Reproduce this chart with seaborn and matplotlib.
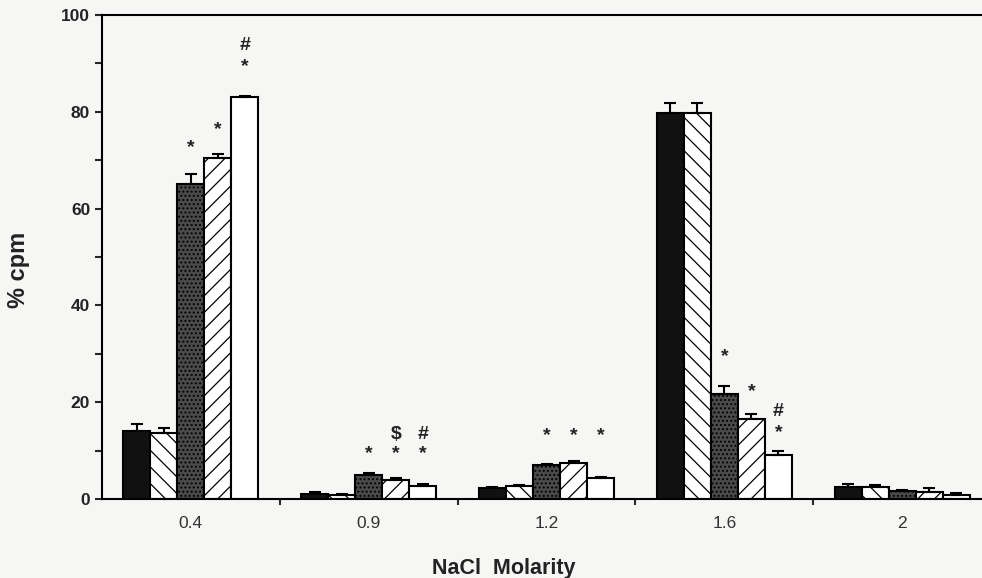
import numpy as np
import pandas as pd
import matplotlib
matplotlib.use("Agg")
import matplotlib.pyplot as plt
import seaborn as sns

# ---- data ----
molarity = ["0.4", "0.9", "1.2", "1.6", "2"]
series = ["A", "B", "C", "D", "E"]
vals_A = [14.1, 1.0, 2.3, 79.7, 2.4]
err_A = [1.4, 0.4, 0.2, 2.2, 0.7]
vals_B = [13.6, 0.8, 2.7, 79.7, 2.5]
err_B = [1.1, 0.3, 0.2, 2.2, 0.4]
vals_C = [65.1, 4.9, 7.0, 21.6, 1.7]
err_C = [2.0, 0.5, 0.2, 1.8, 0.2]
vals_D = [70.4, 3.9, 7.5, 16.5, 1.4]
err_D = [0.9, 0.4, 0.3, 1.0, 0.8]
vals_E = [83.0, 2.7, 4.4, 9.1, 0.9]
err_E = [0.3, 0.4, 0.2, 0.8, 0.3]
# (group, series, symbol, level in % cpm)
annotations = [
    ("0.4", "C", "*", 72.7), ("0.4", "D", "*", 76.4), ("0.4", "E", "*", 89.3), ("0.4", "E", "#", 93.6),
    ("0.9", "C", "*", 9.3), ("0.9", "D", "*", 9.3), ("0.9", "E", "*", 9.3),
    ("0.9", "D", "$", 13.4), ("0.9", "E", "#", 13.4),
    ("1.2", "C", "*", 13.2), ("1.2", "D", "*", 13.2), ("1.2", "E", "*", 13.2),
    ("1.6", "C", "*", 29.4), ("1.6", "D", "*", 22.2), ("1.6", "E", "#", 18.0), ("1.6", "E", "*", 13.7),
]
y_ticks = [0, 20, 40, 60, 80, 100]

vals = [vals_A, vals_B, vals_C, vals_D, vals_E]
errs = [err_A, err_B, err_C, err_D, err_E]
df = pd.DataFrame({
    "molarity": [m for s in series for m in molarity],
    "series": [s for s in series for m in molarity],
    "value": [v for vs in vals for v in vs],
})

sns.set_style("ticks")
plt.rcParams["font.family"] = ["Liberation Sans", "DejaVu Sans"]
plt.rcParams["hatch.linewidth"] = 0.9

bg = "#f6f6f4"
fig = plt.figure(figsize=(9.82, 5.78), dpi=100, facecolor=bg)
ax = fig.add_axes([102 / 982, 79 / 578, 889 / 982, 484 / 578], facecolor=bg)

sns.barplot(data=df, x="molarity", y="value", hue="series", order=molarity,
            hue_order=series, errorbar=None, width=0.76, gap=0,
            palette=["black"] * 5, edgecolor="black", linewidth=1.5,
            legend=False, ax=ax)

faces = ["#111111", "white", "#4a4a4a", "white", "white"]
hatches = [None, "\\\\", "....", "//", None]
for cont, fc, h in zip(ax.containers, faces, hatches):
    for p in cont.patches:
        p.set_facecolor(fc)
        p.set_edgecolor("black")
        if h:
            p.set_hatch(h)

centers = {}
for s, cont, vs, es in zip(series, ax.containers, vals, errs):
    xs = [p.get_x() + p.get_width() / 2 for p in cont.patches]
    for m, x in zip(molarity, xs):
        centers[(m, s)] = x
    ax.errorbar(xs, vs, yerr=[np.zeros(len(es)), es], fmt="none", ecolor="black",
                elinewidth=1.5, capsize=4.5, capthick=1.5, zorder=3)

for m, s, sym, lvl in annotations:
    ax.text(centers[(m, s)], lvl, sym, ha="center", va="center",
            fontsize=14, fontweight="bold", color="#222222")

ax.set_ylim(0, 100)
ax.set_xlim(-0.5, 4.5)
ax.set_yticks(y_ticks)
ax.set_yticks([10, 30, 50, 70, 90], minor=True)
ax.set_yticklabels([str(t) for t in y_ticks], fontsize=12.5, fontweight="bold", color="#222222")
ax.set_xticks([0.5, 1.5, 2.5, 3.5], minor=True)
ax.tick_params(axis="x", which="major", length=0, pad=12, labelsize=12.5, labelcolor="#333333")
ax.tick_params(axis="x", which="minor", length=4, width=1.5, direction="out")
ax.tick_params(axis="y", which="both", length=5, width=1.5, direction="out")

for sp in ax.spines.values():
    sp.set_linewidth(1.5)
    sp.set_color("black")

ax.set_xlabel("NaCl  Molarity", fontsize=15.5, fontweight="bold", color="#222222")
ax.xaxis.set_label_coords((504 - 102) / 889, -(558 - 499) / 484)
ax.set_ylabel("% cpm", fontsize=17, fontweight="bold", color="#222222")
ax.yaxis.set_label_coords(-(102 - 30) / 889, (499 - 270) / 484)

fig.savefig("out.png", dpi=100, facecolor=bg)
